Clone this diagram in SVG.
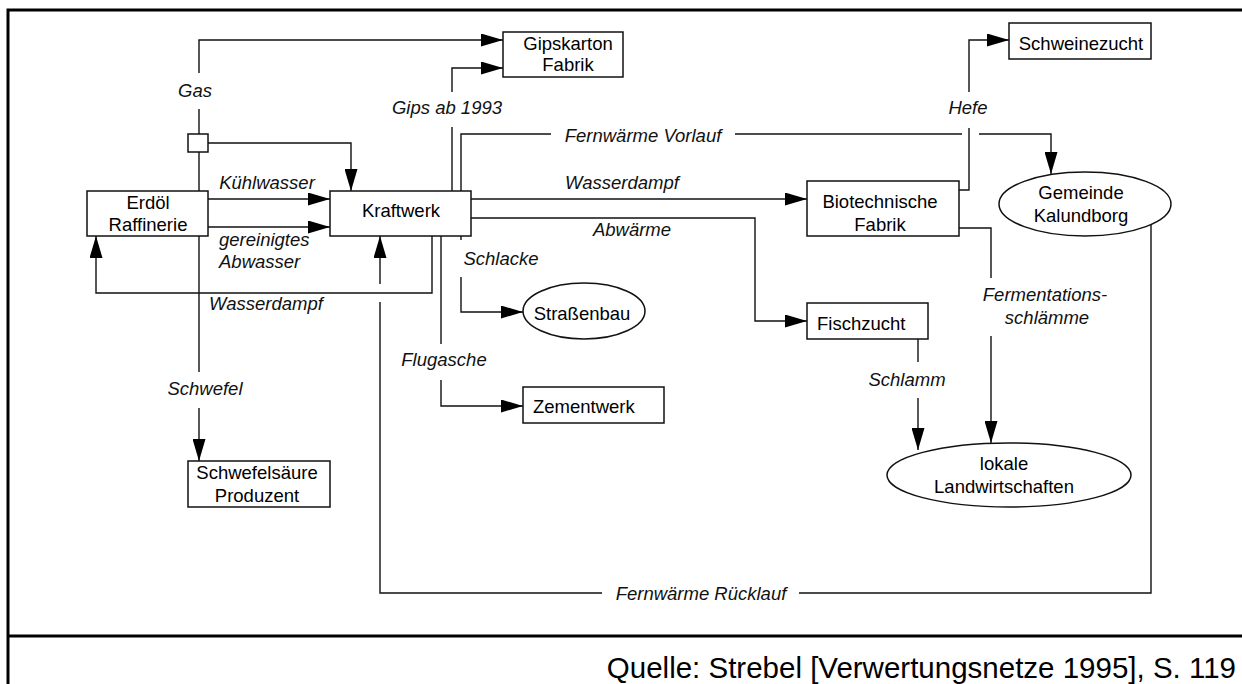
<svg xmlns="http://www.w3.org/2000/svg" width="1242" height="684" viewBox="0 0 1242 684">
<defs>
<marker id="ah" markerUnits="userSpaceOnUse" markerWidth="22" markerHeight="13" refX="22" refY="6.5" orient="auto" viewBox="0 0 22 13">
<path d="M0,0 L22,6.5 L0,13 Z" fill="#000"/>
</marker>
<style>
.frame{stroke:#000;stroke-width:3;fill:none}
.c{stroke:#111;stroke-width:1.4;fill:none}
.a{marker-end:url(#ah)}
.box{fill:#fff;stroke:#111;stroke-width:1.5}
.t{font-family:"Liberation Sans",Arial,sans-serif;font-size:18.5px;fill:#000;text-anchor:middle}
.l{font-family:"Liberation Sans",Arial,sans-serif;font-size:18.5px;font-style:italic;fill:#111;text-anchor:middle}
.src{font-family:"Liberation Sans",Arial,sans-serif;font-size:29.5px;fill:#000;text-anchor:end}
</style>
</defs>
<rect width="1242" height="684" fill="#fff"/>
<g id="frame">
<path class="frame" d="M8,684 V10 H1242"/>
<path class="frame" d="M8,636 H1242"/>
</g>
<g id="connectors">
<path class="c a" d="M199,73 V40 H503"/>
<path class="c" d="M199,109 V134"/>
<path class="c" d="M199,152 V372"/>
<path class="c a" d="M199,408 V461"/>
<path class="c a" d="M208,143 H351 V191"/>
<path class="c a" d="M208,199 H330"/>
<path class="c a" d="M208,227 H330"/>
<path class="c a" d="M432,236 V293 H96 V236"/>
<path class="c" d="M1151,225 V593 H799"/>
<path class="c" d="M602,593 H380 V302"/>
<path class="c a" d="M380,284 V236"/>
<path class="c" d="M452,191 V127"/>
<path class="c a" d="M452,92 V68 H503"/>
<path class="c" d="M461,191 V134 H551"/>
<path class="c" d="M735,134 H962"/>
<path class="c a" d="M979,134 H1051 V174"/>
<path class="c a" d="M471,199 H807"/>
<path class="c a" d="M471,218 H755 V321 H807"/>
<path class="c" d="M461,236 V240"/>
<path class="c a" d="M461,277 V312 H523"/>
<path class="c" d="M441,236 V344"/>
<path class="c a" d="M441,380 V406 H523"/>
<path class="c" d="M959,190 H969 V128"/>
<path class="c a" d="M969,92 V40 H1009"/>
<path class="c" d="M959,228 H991 V278"/>
<path class="c a" d="M991,336 V443"/>
<path class="c" d="M918,339 V362"/>
<path class="c a" d="M918,398 V450"/>
</g>
<g id="labels">
<text class="l" x="195" y="97">Gas</text>
<text class="l" x="447" y="114">Gips ab 1993</text>
<text class="l" x="643" y="142">Fernwärme Vorlauf</text>
<text class="l" x="622" y="189">Wasserdampf</text>
<text class="l" x="632" y="236">Abwärme</text>
<text class="l" x="501" y="265">Schlacke</text>
<text class="l" x="267" y="189">Kühlwasser</text>
<text class="l" x="219" y="246" style="text-anchor:start">gereinigtes</text>
<text class="l" x="219" y="268" style="text-anchor:start">Abwasser</text>
<text class="l" x="266" y="310">Wasserdampf</text>
<text class="l" x="205" y="395">Schwefel</text>
<text class="l" x="444" y="366">Flugasche</text>
<text class="l" x="701" y="600">Fernwärme Rücklauf</text>
<text class="l" x="968" y="114">Hefe</text>
<text class="l" x="1045" y="301">Fermentations-</text>
<text class="l" x="1047" y="324">schlämme</text>
<text class="l" x="907" y="386">Schlamm</text>
</g>
<g id="splitter"><rect class="box" x="188" y="134" width="20" height="18"/></g>
<g id="gipskarton"><rect class="box" x="503" y="32" width="120" height="45"/><text class="t" x="568" y="50">Gipskarton</text><text class="t" x="568" y="71">Fabrik</text></g>
<g id="schweinezucht"><rect class="box" x="1009" y="23" width="142" height="36"/><text class="t" x="1081" y="50">Schweinezucht</text></g>
<g id="raffinerie"><rect class="box" x="87" y="191" width="121" height="45"/><text class="t" x="148" y="209">Erdöl</text><text class="t" x="148" y="231">Raffinerie</text></g>
<g id="kraftwerk"><rect class="box" x="330" y="191" width="141" height="45"/><text class="t" x="401" y="217">Kraftwerk</text></g>
<g id="biotech"><rect class="box" x="807" y="181" width="152" height="55"/><text class="t" x="880" y="208">Biotechnische</text><text class="t" x="880" y="231">Fabrik</text></g>
<g id="gemeinde"><ellipse class="box" cx="1085" cy="204" rx="86" ry="32"/><text class="t" x="1081" y="199">Gemeinde</text><text class="t" x="1081" y="222">Kalundborg</text></g>
<g id="strassenbau"><ellipse class="box" cx="584" cy="311" rx="61" ry="28"/><text class="t" x="582" y="320">Straßenbau</text></g>
<g id="zementwerk"><rect class="box" x="523" y="387" width="141" height="36"/><text class="t" x="533" y="413" style="text-anchor:start">Zementwerk</text></g>
<g id="fischzucht"><rect class="box" x="807" y="303" width="121" height="36"/><text class="t" x="817" y="330" style="text-anchor:start">Fischzucht</text></g>
<g id="landwirtschaften"><ellipse class="box" cx="1009" cy="475" rx="122" ry="32"/><text class="t" x="1004" y="470">lokale</text><text class="t" x="1004" y="493">Landwirtschaften</text></g>
<g id="schwefelsaeure"><rect class="box" x="188" y="461" width="142" height="46"/><text class="t" x="257" y="479">Schwefelsäure</text><text class="t" x="257" y="502">Produzent</text></g>
<text class="src" x="1236" y="678">Quelle: Strebel [Verwertungsnetze 1995], S. 119</text>
</svg>
